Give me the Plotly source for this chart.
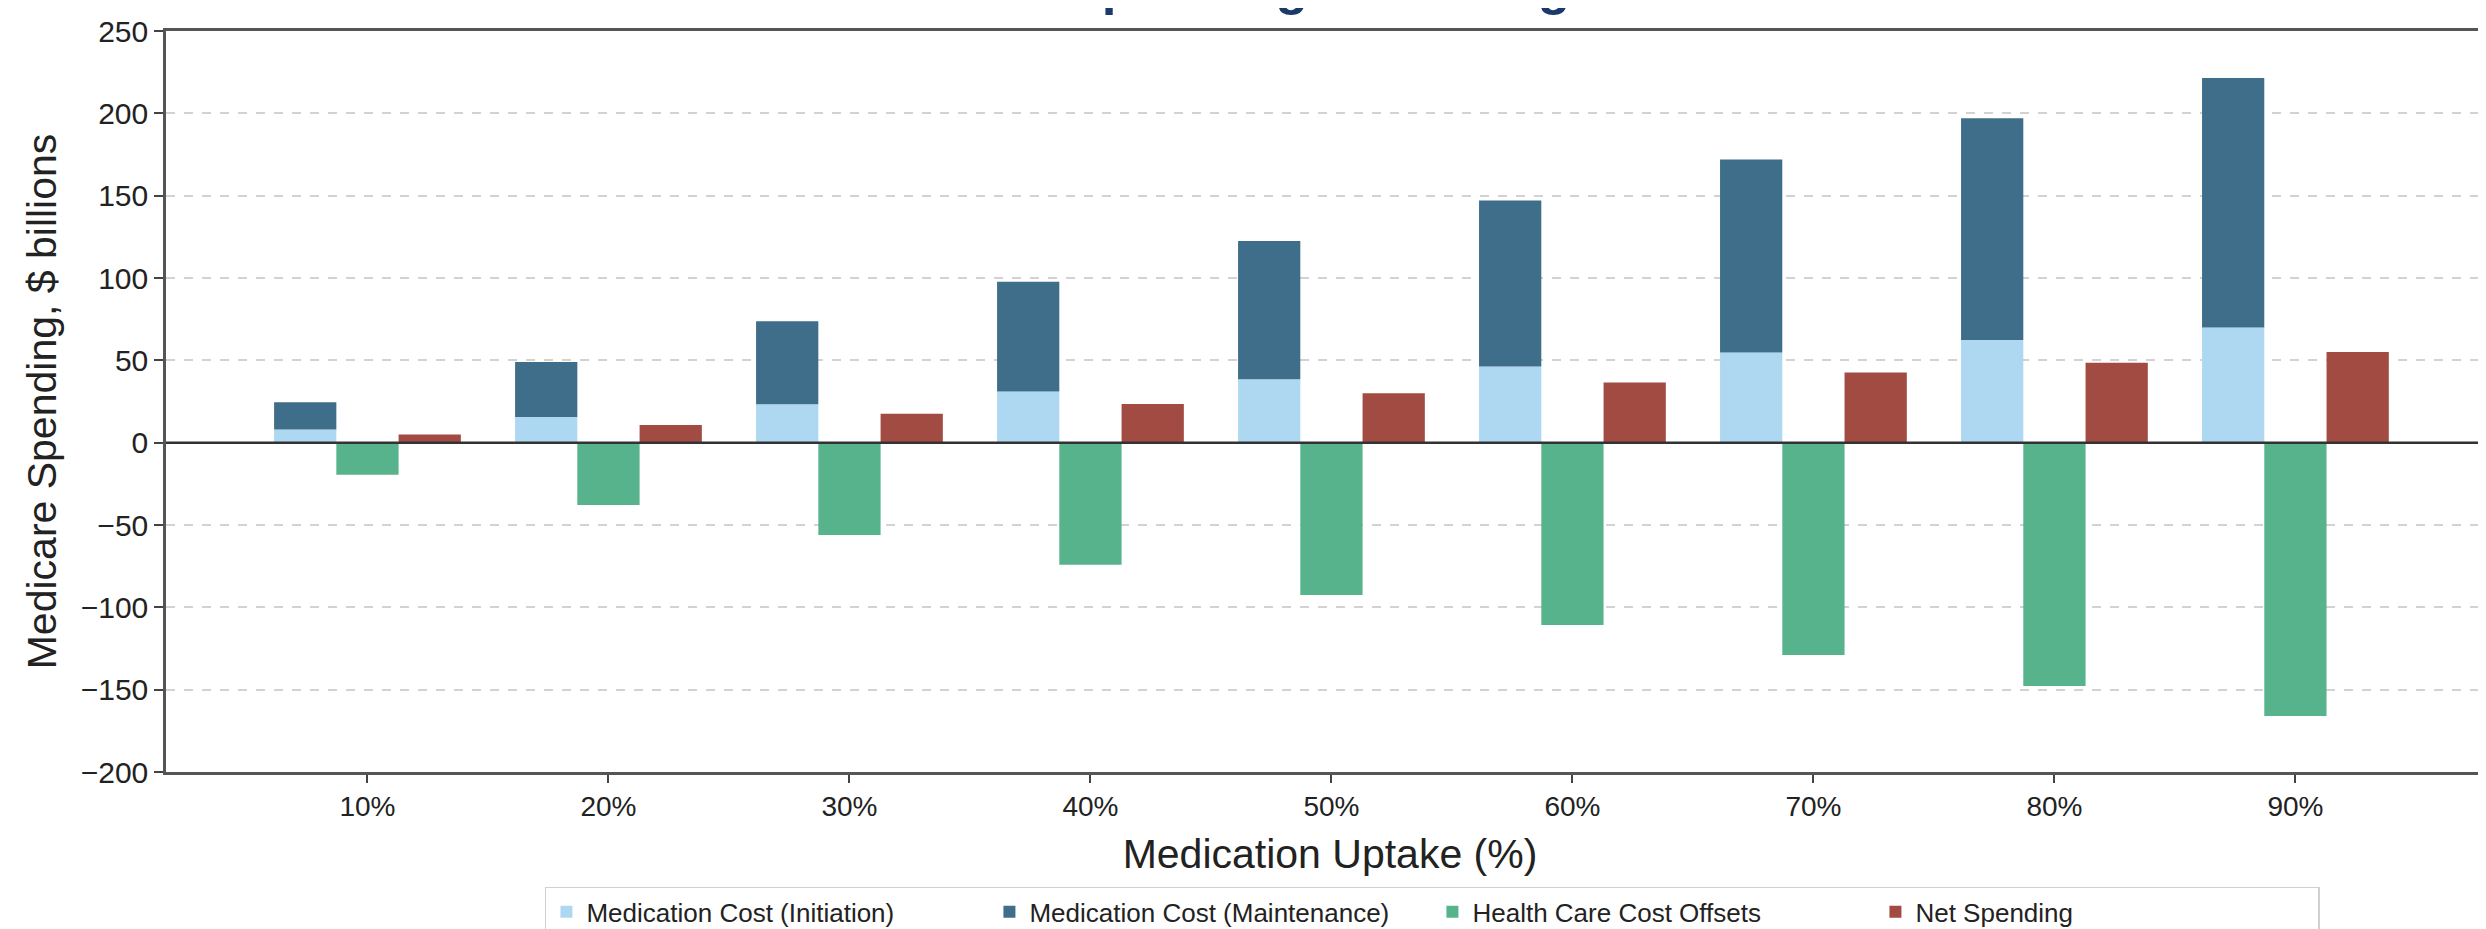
import plotly.graph_objects as go

# ---- data ----
uptake_labels = ["10%", "20%", "30%", "40%", "50%", "60%", "70%", "80%", "90%"]
initiation = [8.0, 15.6, 23.4, 31.0, 38.5, 46.3, 54.8, 62.4, 70.0]
maintenance = [16.5, 33.4, 50.4, 66.7, 84.0, 100.7, 117.2, 134.6, 151.5]
offsets = [-19.5, -37.9, -56.0, -74.2, -92.5, -110.8, -129.0, -147.7, -166.0]
net_spending = [5.0, 10.8, 17.6, 23.5, 30.0, 36.6, 42.6, 48.5, 55.0]
y_ticks = [-200, -150, -100, -50, 0, 50, 100, 150, 200, 250]

C_INIT = "#AED8F2"
C_MAINT = "#3F6E8A"
C_OFF = "#56B38C"
C_NET = "#A24B43"

FONT = "Liberation Sans, Arial, sans-serif"

fig = go.Figure()
fig.add_trace(go.Bar(x=uptake_labels, y=initiation, name="Medication Cost (Initiation)",
                     marker=dict(color=C_INIT, line=dict(width=0)), offsetgroup="a"))
fig.add_trace(go.Bar(x=uptake_labels, y=maintenance, base=initiation,
                     name="Medication Cost (Maintenance)",
                     marker=dict(color=C_MAINT, line=dict(width=0)), offsetgroup="a"))
fig.add_trace(go.Bar(x=uptake_labels, y=offsets, name="Health Care Cost Offsets",
                     marker=dict(color=C_OFF, line=dict(width=0)), offsetgroup="b"))
fig.add_trace(go.Bar(x=uptake_labels, y=net_spending, name="Net Spending",
                     marker=dict(color=C_NET, line=dict(width=0)), offsetgroup="c"))

fig.update_layout(
    width=2486, height=929,
    margin=dict(l=158, r=0, t=23, b=159),
    paper_bgcolor="white", plot_bgcolor="white",
    barmode="group", bargap=0.225, bargroupgap=0,
    font=dict(family=FONT, color="#222222"),
    showlegend=True,
    legend=dict(orientation="h", x=0.544, xanchor="center", y=-0.155, yanchor="top",
                font=dict(family=FONT, size=26, color="#222222"),
                bordercolor="#d0d0d0", borderwidth=1.5, bgcolor="white",
                traceorder="normal", entrywidth=398, entrywidthmode="pixels"),
)

fig.update_xaxes(
    type="category", range=[-0.836, 8.824],
    showline=True, linecolor="#555555", linewidth=2.5, mirror=True,
    ticks="outside", ticklen=8, tickwidth=2, tickcolor="#444444",
    tickfont=dict(size=28, color="#222222"),
    showgrid=False, zeroline=False,
    title=dict(text="Medication Uptake (%)", font=dict(size=41, color="#222222"), standoff=18),
)
fig.update_yaxes(
    range=[-200, 250], tickvals=y_ticks,
    showline=True, linecolor="#555555", linewidth=2.5, mirror=False,
    ticks="outside", ticklen=9, tickwidth=2, tickcolor="#444444",
    tickfont=dict(size=30, color="#222222"),
    showgrid=True, gridcolor="#d2d2d2", gridwidth=1.5, griddash="dash",
    zeroline=False,
    title=dict(text="Medicare Spending, $ billions", font=dict(size=41, color="#222222"), standoff=12),
)

# zero reference line drawn above bars
fig.add_shape(type="line", xref="paper", x0=0, x1=1, yref="y", y0=0, y1=0,
              line=dict(color="#333333", width=2.5), layer="above")

# title (clipped at the top edge, as in the reference)
fig.add_annotation(text="<b>Medicare Spending vs Savings</b>", xref="paper", yref="paper",
                   x=0.4489, y=1.0201, xanchor="center", yanchor="bottom", showarrow=False,
                   borderpad=0, font=dict(family=FONT, size=53, color="#1B3A6B"))

fig.write_html("out.html")
